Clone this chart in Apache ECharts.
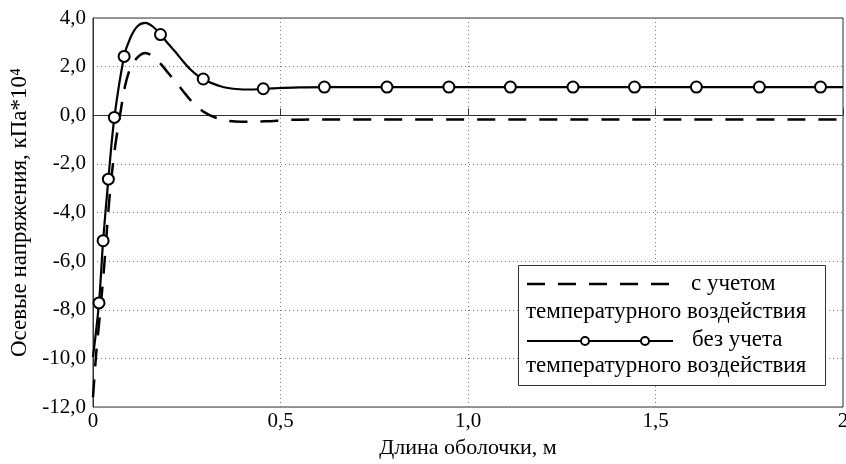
<!DOCTYPE html>
<html><head><meta charset="utf-8">
<script src="https://cdn.jsdelivr.net/npm/echarts@6/dist/echarts.min.js"></script>
<style>html,body{margin:0;padding:0;background:#fff}#c{width:846px;height:464px}</style>
</head><body><div id="c"></div>
<script>
// Solid curve (без учета температурного воздействия)
const solidX = [0, 0.016, 0.027, 0.041, 0.057, 0.083, 0.10, 0.12, 0.14, 0.16, 0.18, 0.20, 0.22, 0.24, 0.26, 0.28, 0.30, 0.32, 0.34, 0.36, 0.38, 0.40, 0.42, 0.44, 0.46, 0.50, 0.55, 0.62, 2.0];
const solidY = [-9.95, -7.72, -5.16, -2.63, -0.09, 2.42, 3.20, 3.68, 3.80, 3.64, 3.32, 2.95, 2.60, 2.22, 1.88, 1.62, 1.44, 1.30, 1.19, 1.12, 1.08, 1.06, 1.06, 1.07, 1.09, 1.12, 1.15, 1.16, 1.16];
// Marker positions on the solid curve
const markerX = [0.016, 0.027, 0.041, 0.057, 0.083, 0.180, 0.294, 0.454, 0.617, 0.784, 0.949, 1.113, 1.280, 1.444, 1.609, 1.777, 1.940];
const markerY = [-7.72, -5.16, -2.63, -0.09, 2.42, 3.32, 1.49, 1.09, 1.16, 1.16, 1.16, 1.16, 1.16, 1.16, 1.16, 1.16, 1.16];
// Dashed curve (с учетом температурного воздействия)
const dashX = [0, 0.0085, 0.0187, 0.029, 0.045, 0.059, 0.072, 0.0853, 0.10, 0.12, 0.14, 0.16, 0.18, 0.20, 0.22, 0.24, 0.26, 0.28, 0.30, 0.32, 0.34, 0.36, 0.38, 0.42, 0.46, 0.55, 2.0];
const dashY = [-11.6, -9.8, -8.16, -6.37, -3.2, -1.29, 0.0, 1.19, 1.95, 2.40, 2.56, 2.42, 2.12, 1.75, 1.38, 1.00, 0.62, 0.32, 0.10, -0.06, -0.16, -0.23, -0.26, -0.27, -0.25, -0.18, -0.17];

const xTitle = 'Длина оболочки, м';
const yTitle = 'Осевые напряжения, кПа*10⁴';
const legendNames = ['с учетом', 'температурного воздействия', 'без учета', 'температурного воздействия'];

const FONT = 'Liberation Serif';
const zip = (a, b) => a.map((v, i) => [v, b[i]]);

const chart = echarts.init(document.getElementById('c'), null, {renderer: 'canvas'});
const fmtX = v => (v === 0 ? '0' : (v === 2 ? '2' : v.toFixed(1).replace('.', ',')));
const fmtY = v => v.toFixed(1).replace('.', ',');
const LF = '23px "' + FONT + '"';

chart.setOption({
  animation: false,
  backgroundColor: '#fff',
  grid: {left: 93, right: 3, top: 18, bottom: 57, show: true, borderColor: '#333', borderWidth: 1,
         containLabel: false, outerBoundsMode: 'none'},
  xAxis: {
    type: 'value', min: 0, max: 2, interval: 0.5,
    axisLine: {lineStyle: {color: '#333', width: 1}},
    axisTick: {inside: true, length: 7, lineStyle: {color: '#333'}},
    axisLabel: {formatter: fmtX, color: '#000', fontFamily: FONT, fontSize: 21, margin: 4},
    splitLine: {show: true, lineStyle: {type: [1, 3], color: '#777', width: 1}},
    name: xTitle, nameLocation: 'middle', nameGap: 29,
    nameTextStyle: {color: '#000', fontFamily: FONT, fontSize: 22}
  },
  yAxis: {
    type: 'value', min: -12, max: 4, interval: 2,
    axisLine: {show: true, lineStyle: {color: '#333', width: 1}},
    axisTick: {show: false},
    axisLabel: {formatter: fmtY, color: '#000', fontFamily: FONT, fontSize: 21, margin: 7},
    splitLine: {show: true, lineStyle: {type: [1, 3], color: '#777', width: 1}},
    name: yTitle, nameLocation: 'middle', nameGap: 61,
    nameTextStyle: {color: '#000', fontFamily: FONT, fontSize: 23}
  },
  series: [
    {type: 'line', data: zip(dashX, dashY), showSymbol: false, smooth: 0.3,
     lineStyle: {color: '#000', width: 2.5, type: [18, 13]}, z: 3},
    {type: 'line', data: zip(solidX, solidY), showSymbol: false, smooth: 0.3,
     lineStyle: {color: '#000', width: 2.2}, z: 4},
    {type: 'scatter', data: zip(markerX, markerY), symbol: 'circle', symbolSize: 11,
     itemStyle: {color: '#fff', borderColor: '#000', borderWidth: 2, opacity: 1}, z: 5}
  ],
  graphic: [
    {type: 'rect', left: 518, top: 265, shape: {width: 307, height: 120},
     style: {fill: '#fff', stroke: '#333', lineWidth: 1}, z: 10},
    {type: 'line', shape: {x1: 527, y1: 284, x2: 673, y2: 284},
     style: {stroke: '#000', lineWidth: 2.5, lineDash: [18, 13]}, z: 11},
    {type: 'text', left: 691, top: 272, style: {text: legendNames[0], font: LF, fill: '#000'}, z: 11},
    {type: 'text', left: 526, top: 300, style: {text: legendNames[1], font: LF, fill: '#000'}, z: 11},
    {type: 'line', shape: {x1: 527, y1: 341, x2: 673, y2: 341},
     style: {stroke: '#000', lineWidth: 2.2}, z: 11},
    {type: 'circle', shape: {cx: 585, cy: 341, r: 4}, style: {fill: '#fff', stroke: '#000', lineWidth: 2}, z: 12},
    {type: 'circle', shape: {cx: 645, cy: 341, r: 4}, style: {fill: '#fff', stroke: '#000', lineWidth: 2}, z: 12},
    {type: 'text', left: 692, top: 328, style: {text: legendNames[2], font: LF, fill: '#000'}, z: 11},
    {type: 'text', left: 526, top: 354, style: {text: legendNames[3], font: LF, fill: '#000'}, z: 11}
  ]
});
</script></body></html>
